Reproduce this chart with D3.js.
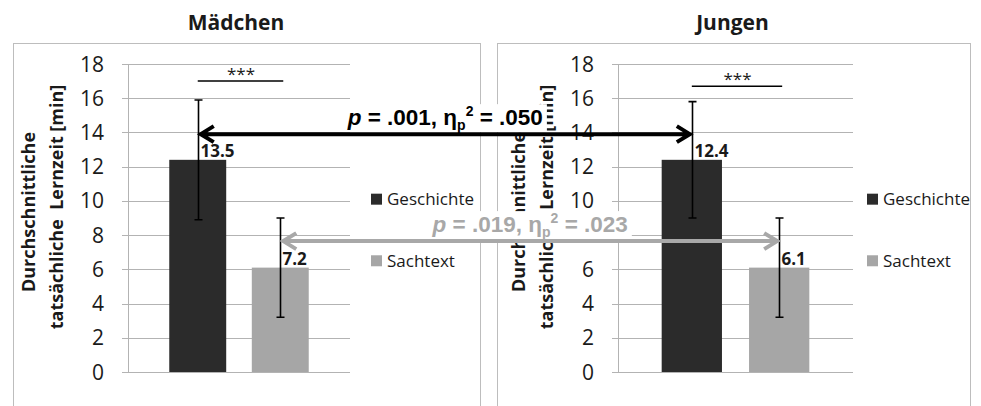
<!DOCTYPE html>
<html>
<head>
<meta charset="utf-8">
<script src="https://cdn.jsdelivr.net/npm/d3@7"></script>
<style>
	body { margin: 0; background: #fff; }
	svg { display: block; }
	text { font-family: "Open Sans", Lato, sans-serif; fill: #1a1a1a; }
</style>
</head>
<body>
<div id="theChart"></div>
<script>
const groups = ["Mädchen", "Jungen"]
const series = ["Geschichte", "Sachtext"]
const meansMaedchen = [12.4, 6.1]
const errorsMaedchen = [3.5, 2.9]
const labelsMaedchen = ["13.5", "7.2"]
const meansJungen = [12.4, 6.1]
const errorsJungen = [3.4, 2.9]
const labelsJungen = ["12.4", "6.1"]
const yTicks = [0, 2, 4, 6, 8, 10, 12, 14, 16, 18]
const yTitle = ["Durchschnittliche", "tatsächliche  Lernzeit [min]"]
const sigLabel = "***"
const sigLevels = [17, 16.7] // *** bracket height per panel
const compareSeries = ["Geschichte", "Sachtext"]
const compareLevels = [13.9, 7.65]
const compareP = [".001", ".019"]
const compareEta = [".050", ".023"]

const w = 981
const h = 406
const colors = { Geschichte: "#2b2b2b", Sachtext: "#a6a6a6" }

// layout of the two panels (box + plot area)
const panels = [
	{ title: groups[0], means: meansMaedchen, errors: errorsMaedchen, labels: labelsMaedchen, sig: sigLevels[0], box: [13, 480], plot: [128, 350], legendX: 371 },
	{ title: groups[1], means: meansJungen, errors: errorsJungen, labels: labelsJungen, sig: sigLevels[1], box: [497, 970], plot: [618, 853], legendX: 867 },
]

const svg = d3
	.select("#theChart")
	.append("svg")
	.attr("width", w)
	.attr("height", h)

const y = d3.scaleLinear().domain([0, 18]).range([372, 64])

panels.forEach(p => {
	p.x = d3
		.scaleBand()
		.domain(series)
		.range(p.plot)
		.paddingInner(0.31)
		.paddingOuter(0.5)

	const g = svg.append("g")

	g.append("rect")
		.attr("x", p.box[0] + 0.5)
		.attr("y", 43.5)
		.attr("width", p.box[1] - p.box[0])
		.attr("height", 400)
		.attr("fill", "none")
		.attr("stroke", "#bdbdbd")

	g.append("text")
		.attr("x", (p.plot[0] + p.plot[1]) / 2 - 3)
		.attr("y", 30)
		.attr("text-anchor", "middle")
		.style("font-size", "21px")
		.style("font-weight", "bold")
		.text(p.title)

	// gridlines + ticks
	g.selectAll(".grid")
		.data(yTicks)
		.enter()
		.append("line")
		.attr("x1", p.plot[0] - 6)
		.attr("x2", p.plot[1])
		.attr("y1", d => Math.round(y(d)) + 0.5)
		.attr("y2", d => Math.round(y(d)) + 0.5)
		.attr("stroke", "#b3b3b3")
		.attr("stroke-width", 1)

	g.append("line")
		.attr("x1", p.plot[0] + 0.5)
		.attr("x2", p.plot[0] + 0.5)
		.attr("y1", y(18))
		.attr("y2", y(0))
		.attr("stroke", "#b3b3b3")

	g.selectAll(".tick")
		.data(yTicks)
		.enter()
		.append("text")
		.attr("x", p.plot[0] - 24)
		.attr("y", d => y(d))
		.attr("dy", "0.36em")
		.attr("text-anchor", "end")
		.style("font-size", "21px")
		.text(d => d)

	// axis title, two rotated lines
	yTitle.forEach((t, i) => {
		g.append("text")
			.attr("transform", `translate(${p.plot[0] - 99 + i * 28},${y(9) - 6 - i * 5}) rotate(-90)`)
			.attr("text-anchor", "middle")
			.attr("dy", "0.35em")
			.style("font-size", "18px")
			.style("font-weight", "bold")
			.style("white-space", "pre")
			.text(t)
	})

	// bars
	g.selectAll(".bar")
		.data(series)
		.enter()
		.append("rect")
		.attr("x", d => p.x(d))
		.attr("width", p.x.bandwidth())
		.attr("y", (d, i) => y(p.means[i]))
		.attr("height", (d, i) => y(0) - y(p.means[i]))
		.attr("fill", d => colors[d])

	// error bars
	series.forEach((s, i) => {
		const cx = Math.round(p.x(s) + p.x.bandwidth() / 2) + 0.5
		const lo = y(p.means[i] - p.errors[i])
		const hi = y(p.means[i] + p.errors[i])
		g.append("path")
			.attr("d", `M${cx},${lo}V${hi}M${cx - 4},${lo}H${cx + 4}M${cx - 4},${hi}H${cx + 4}`)
			.attr("stroke", "#000")
			.attr("stroke-width", 1.6)
			.attr("fill", "none")

		g.append("text")
			.attr("x", cx + 2)
			.attr("y", y(p.means[i]) - 3)
			.style("font-size", "17px")
			.style("font-weight", "bold")
			.text(p.labels[i])
	})

	// significance bracket
	const x1 = p.x(series[0]) + p.x.bandwidth() / 2
	const x2 = p.x(series[1]) + p.x.bandwidth() / 2
	g.append("line")
		.attr("x1", x1)
		.attr("x2", x2 + 3)
		.attr("y1", y(p.sig))
		.attr("y2", y(p.sig))
		.attr("stroke", "#000")
		.attr("stroke-width", 1.5)
	g.append("text")
		.attr("x", (x1 + x2) / 2 + 2)
		.attr("y", y(p.sig) - 1)
		.attr("text-anchor", "middle")
		.style("font-size", "17px")
		.text(sigLabel)

	// legend
	const legend = g.append("g").attr("transform", `translate(${p.legendX},0)`)
	series.forEach((s, i) => {
		const ly = y(10.1 - i * 3.6)
		legend
			.append("rect")
			.attr("x", 0)
			.attr("y", ly - 5.5)
			.attr("width", 11)
			.attr("height", 11)
			.attr("fill", colors[s])
		legend
			.append("text")
			.attr("x", 16)
			.attr("y", ly)
			.attr("dy", "0.36em")
			.style("font-size", "17px")
			.text(s)
	})
})

// comparison arrows between the panels
const arrowColors = ["#000", "#a8a8a8"]
compareSeries.forEach((s, i) => {
	const a = panels[0]
	const b = panels[1]
	const xa = a.x(s) + a.x.bandwidth() / 2 + 3
	const xb = b.x(s) + b.x.bandwidth() / 2 - 2
	const ay = y(compareLevels[i])
	const col = arrowColors[i]

	const label = svg
		.append("text")
		.attr("x", (xa + xb) / 2)
		.attr("y", ay - 9)
		.attr("text-anchor", "middle")
		.style("font-family", "'Liberation Sans', Arial, sans-serif")
		.style("font-size", "22.5px")
		.style("font-weight", "bold")
		.style("fill", col)
	label.append("tspan").style("font-style", "italic").text("p")
	label.append("tspan").text(` = ${compareP[i]}, η`)
	label.append("tspan").attr("dy", 5).style("font-size", "14px").text("p")
	label.append("tspan").attr("dy", -14).style("font-size", "14px").text("2")
	label.append("tspan").attr("dy", 9).text(` = ${compareEta[i]}`)

	const bb = label.node().getBBox()
	svg.insert("rect", () => label.node())
		.attr("x", bb.x - 4)
		.attr("y", bb.y + 1)
		.attr("width", bb.width + 8)
		.attr("height", bb.height - 2)
		.attr("fill", "#fff")

	svg.append("path")
		.attr("d", `M${xa},${ay}H${xb}M${xa + 13},${ay - 8}L${xa},${ay}L${xa + 13},${ay + 8}M${xb - 13},${ay - 8}L${xb},${ay}L${xb - 13},${ay + 8}`)
		.attr("stroke", col)
		.attr("stroke-width", 4)
		.attr("fill", "none")
})
</script>
</body>
</html>
